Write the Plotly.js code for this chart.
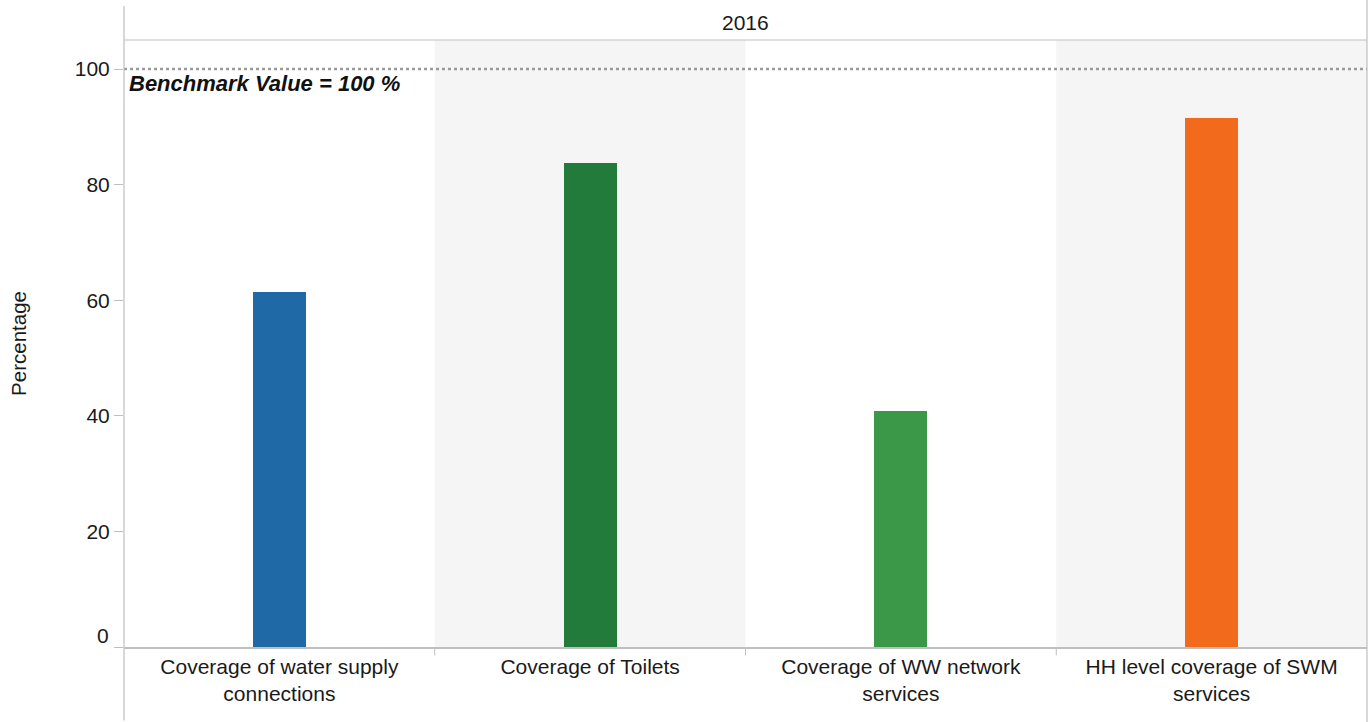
<!DOCTYPE html>
<html>
<head>
<meta charset="utf-8">
<script src="https://cdn.plot.ly/plotly-3.0.1.min.js"></script>
<style>html,body{margin:0;padding:0;background:#fff;}#chart{width:1372px;height:722px;}</style>
</head>
<body>
<div id="chart"></div>
<script>
const categories = ["Coverage of water supply connections", "Coverage of Toilets", "Coverage of WW network services", "HH level coverage of SWM services"];
const tickLabels = ["Coverage of water supply<br>connections", "Coverage of Toilets", "Coverage of WW network<br>services", "HH level coverage of SWM<br>services"];
const values = [61.4, 83.7, 40.8, 91.5];
const barColors = ["#1e69a6", "#227b3a", "#3b9848", "#f26b1c"];
const benchmark = 100;
const yearLabel = "2016";
const yTicks = [0, 20, 40, 60, 80, 100];
const yTickText = ["", "20", "40", "60", "80", "100"];

const font = "Liberation Sans, Arial, sans-serif";
const gray = "#bfbfbf";

const shapes = [];
[1, 3].forEach(i => shapes.push({type: "rect", xref: "x", yref: "paper", x0: i - 0.5, x1: i + 0.5, y0: 0, y1: 1, fillcolor: "#f5f5f5", line: {width: 0}, layer: "below"}));
[0.5, 1.5, 2.5].forEach(x => shapes.push({type: "line", xref: "x", yref: "paper", x0: x, x1: x, y0: 0, y1: -0.014, line: {color: gray, width: 1}}));
shapes.push({type: "line", xref: "paper", yref: "y", x0: 0, x1: 1, y0: benchmark, y1: benchmark, line: {color: "#9a9a9a", width: 2.5, dash: "dot"}});
shapes.push({type: "line", xref: "paper", yref: "paper", x0: 0, x1: 1, y0: 1, y1: 1, line: {color: gray, width: 1}});
shapes.push({type: "line", xref: "paper", yref: "paper", x0: 0, x1: 0, y0: -0.121, y1: 1.056, line: {color: gray, width: 1.2}});
shapes.push({type: "line", xref: "paper", yref: "paper", x0: 1, x1: 1, y0: -0.124, y1: 1.066, line: {color: gray, width: 1.2}});

const trace = {
  type: "bar",
  x: categories,
  y: values,
  marker: {color: barColors, line: {width: 0}},
  width: 0.17,
  hoverinfo: "x+y"
};

const layout = {
  width: 1372, height: 722,
  margin: {l: 124, r: 5, t: 40, b: 75, pad: 0},
  paper_bgcolor: "#ffffff",
  plot_bgcolor: "#ffffff",
  font: {family: font, size: 21, color: "#1a1a1a"},
  showlegend: false,
  xaxis: {
    type: "category",
    range: [-0.5, 3.5],
    tickmode: "array",
    tickvals: categories,
    ticktext: tickLabels,
    ticks: "",
    showgrid: false,
    zeroline: false,
    showline: true,
    linecolor: gray,
    linewidth: 1.5,
    tickfont: {family: font, size: 21, color: "#1a1a1a"},
    fixedrange: true
  },
  yaxis: {
    range: [0, 105.02],
    tickmode: "array",
    tickvals: yTicks,
    ticktext: yTickText,
    ticks: "outside",
    ticklen: 9,
    tickcolor: gray,
    showgrid: false,
    zeroline: false,
    showline: false,
    tickfont: {family: font, size: 21, color: "#1a1a1a"},
    title: {text: "Percentage", font: {family: font, size: 20.5, color: "#1a1a1a"}, standoff: 42},
    fixedrange: true
  },
  shapes: shapes,
  annotations: [
    {text: yearLabel, xref: "paper", yref: "paper", x: 0.5, y: 1, yshift: 18, showarrow: false, xanchor: "center", yanchor: "middle", font: {family: font, size: 21, color: "#1a1a1a"}},
    {text: "<b><i>Benchmark Value = 100 %</i></b>", xref: "paper", yref: "y", x: 0, y: benchmark, xshift: 3, yshift: -14, showarrow: false, xanchor: "left", yanchor: "middle", font: {family: font, size: 22, color: "#111"}},
    {text: "0", xref: "paper", yref: "y", x: 0, y: 0, xshift: -13, yshift: 12, showarrow: false, xanchor: "right", yanchor: "middle", font: {family: font, size: 21, color: "#1a1a1a"}}
  ],
  bargap: 0
};

Plotly.newPlot("chart", [trace], layout, {displayModeBar: false, staticPlot: false});
</script>
</body>
</html>
